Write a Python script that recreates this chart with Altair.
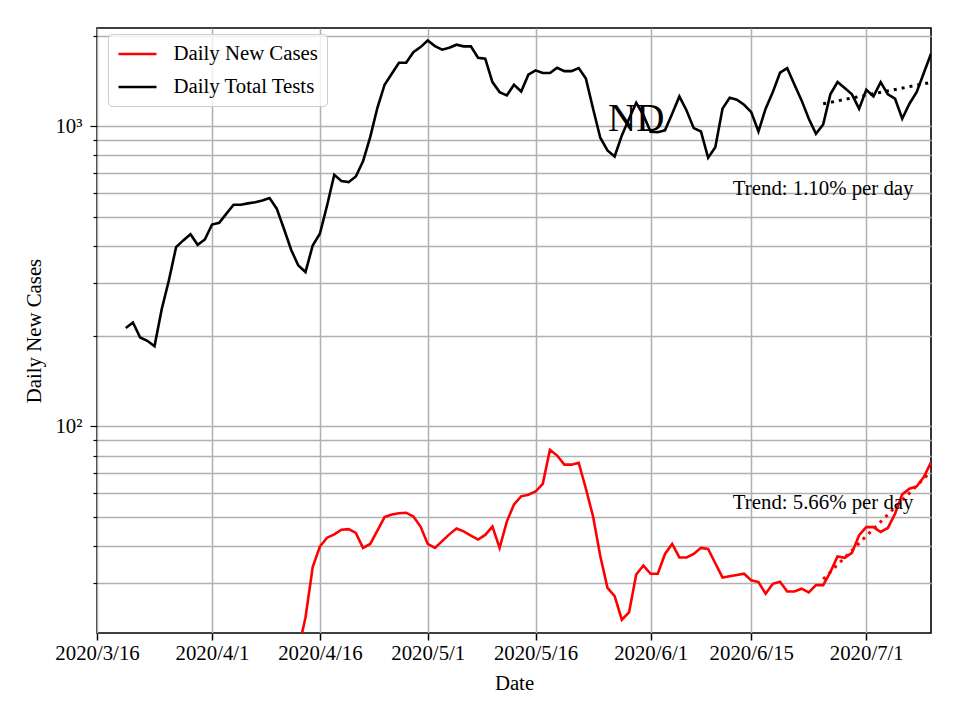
import altair as alt
import pandas as pd

# ---- data ----
test_start = "2020-03-20"
tests = [213, 222, 198, 193, 185, 246, 307, 396, 417, 437, 403, 420,
         471, 477, 512, 548, 548, 554, 559, 566, 577, 532, 456, 388, 344, 327,
         401, 439, 545, 690, 658, 652, 681, 765, 921, 1154, 1377, 1498, 1630,
         1630, 1768, 1838,
         1934, 1852, 1802, 1829, 1872, 1848, 1848, 1694, 1681, 1405, 1301, 1269,
         1377, 1308, 1487, 1537, 1506, 1506, 1569, 1529, 1529, 1564, 1443, 1145,
         917, 832, 794, 933, 1060, 1199, 1090,
         960, 957, 970, 1102, 1259, 1130, 987, 962, 786, 853, 1146, 1246, 1227,
         1181, 1116, 962, 1146, 1301, 1510, 1564, 1380, 1221, 1061, 945, 1015,
         1279, 1405, 1342, 1279, 1146,
         1325, 1259, 1405, 1279, 1237, 1061, 1190, 1301, 1506, 1747]

case_start = "2020-04-13"
cases = [18, 23.1, 34.0, 39.8, 42.6, 43.7, 45.3, 45.5, 44.2, 39.4, 40.6, 45.0,
         49.9, 50.9, 51.4, 51.6, 50.1, 46.4,
         40.6, 39.4, 41.5, 43.7, 45.7, 44.7, 43.3, 42.0, 43.5, 46.4, 39.4, 48.2,
         55.0, 58.5, 59.2, 60.7, 64.4, 83.6, 80.0, 74.6, 74.6, 75.7, 62.0, 50.1,
         37.0, 29.0, 27.2, 22.7, 24.0, 32.1, 34.4,
         32.3, 32.3, 37.6, 40.6, 36.6, 36.6, 37.6, 39.4, 39.1, 35.0, 31.4, 31.7,
         32.0, 32.3, 30.7, 30.3, 27.7, 29.9, 30.4, 28.2, 28.2, 28.8, 28.0, 29.6,
         29.6, 32.7, 36.9, 36.5, 37.9, 43.4,
         46.2, 46.2, 44.5, 45.9, 51.2, 59.4, 62.0, 63.1, 67.8, 76.0]

series_names = ["Daily New Cases", "Daily Total Tests"]
series_colors = ["#ff0000", "#000000"]

trend_dates = ["2020-06-25", "2020-07-10"]
trend_tests = [1190, 1402]
trend_cases = [31.0, 70.8]

note_texts = ["Trend: 1.10% per day", "Trend: 5.66% per day"]
note_dates = ["2020-06-25", "2020-06-25"]
note_values = [589, 53.2]

state_label = "ND"
state_date = "2020-05-30"
state_value = 969

xtick_labels = ["2020/3/16", "2020/4/1", "2020/4/16", "2020/5/1",
                "2020/5/16", "2020/6/1", "2020/6/15", "2020/7/1"]
ytick_values = [30, 40, 50, 60, 70, 80, 90, 100, 200, 300, 400, 500, 600,
                700, 800, 900, 1000, 2000]

# ---- build tables ----
t_dates = pd.date_range(test_start, periods=len(tests), freq="D").strftime("%Y-%m-%d")
c_dates = pd.date_range(case_start, periods=len(cases), freq="D").strftime("%Y-%m-%d")
df = pd.concat([
    pd.DataFrame({"date": c_dates, "value": cases, "series": series_names[0]}),
    pd.DataFrame({"date": t_dates, "value": tests, "series": series_names[1]}),
], ignore_index=True)

trend_df = pd.concat([
    pd.DataFrame({"date": trend_dates, "value": trend_cases, "series": series_names[0]}),
    pd.DataFrame({"date": trend_dates, "value": trend_tests, "series": series_names[1]}),
], ignore_index=True)

notes_df = pd.DataFrame({"date": note_dates, "value": note_values, "text": note_texts})
state_df = pd.DataFrame({"date": [state_date], "value": [state_value], "text": [state_label]})


def dt(s):
    y, m, d = (int(p) for p in s.split("/"))
    return alt.DateTime(year=y, month=m, date=d, utc=True)


FONT = "Liberation Serif"
FS = 20.8

x_scale = alt.Scale(type="utc", domain=[dt("2020/3/16"), dt("2020/7/10")], nice=False)
y_scale = alt.Scale(type="log", domain=[20.5, 2128], nice=False)

x_axis = alt.Axis(
    values=[dt(s) for s in xtick_labels],
    labelExpr="utcFormat(datum.value, '%Y/%-m/%-d')",
    labelOverlap=False, labelFlush=False,
    title="Date", grid=True, gridColor="#b0b0b0", gridWidth=1.5,
    domain=False, tickColor="black", tickWidth=1.5, tickSize=7,
    labelPadding=3, titlePadding=11,
)
y_axis = alt.Axis(
    values=ytick_values,
    labelExpr="datum.value == 100 ? '10\u00b2' : (datum.value == 1000 ? '10\u00b3' : '')",
    labelOverlap=False,
    title="Daily New Cases", grid=True, gridColor="#b0b0b0", gridWidth=1.5,
    domain=False, tickColor="black", tickWidth=1.2,
    tickSize={"condition": {"test": "datum.value == 100 || datum.value == 1000", "value": 7}, "value": 4},
    labelPadding=8, titlePadding=10,
)

color = alt.Color(
    "series:N",
    scale=alt.Scale(domain=series_names, range=series_colors),
    legend=alt.Legend(
        orient="none", legendX=11, legendY=6, title=None,
        symbolType="M-2,0H2", symbolSize=361, symbolStrokeWidth=2.5,
        symbolOffset=9.5,
        labelFont=FONT, labelFontSize=FS, labelOffset=25, labelColor="black",
        fillColor="rgba(255,255,255,0.8)", strokeColor="#cccccc",
        cornerRadius=4, padding=9, rowPadding=12,
    ),
)

lines = alt.Chart(df).mark_line(strokeWidth=2.6, clip=True).encode(
    x=alt.X("date:T", scale=x_scale, axis=x_axis),
    y=alt.Y("value:Q", scale=y_scale, axis=y_axis),
    color=color,
    detail="series:N",
)

trend = alt.Chart(trend_df).mark_line(strokeWidth=3, strokeDash=[3, 5], clip=True).encode(
    x="date:T", y="value:Q",
    color=alt.Color("series:N", scale=alt.Scale(domain=series_names, range=series_colors), legend=None),
)

notes = alt.Chart(notes_df).mark_text(
    font=FONT, fontSize=FS, align="center", baseline="alphabetic", color="black"
).encode(x="date:T", y="value:Q", text="text:N")

state = alt.Chart(state_df).mark_text(
    font=FONT, fontSize=39, align="center", baseline="alphabetic", color="black"
).encode(x="date:T", y="value:Q", text="text:N")

chart = alt.layer(lines, trend, notes, state).resolve_scale(color="independent").properties(
    width=834, height=605,
    background="white",
    autosize=alt.AutoSizeParams(type="none"),
    padding={"left": 89, "top": 20, "right": 21, "bottom": 79},
).configure_view(stroke="black", strokeWidth=1.6).configure_axis(
    labelFont=FONT, labelFontSize=FS, labelColor="black",
    titleFont=FONT, titleFontSize=FS, titleFontWeight="normal", titleColor="black",
)

chart.save("out.html", embed_options={"renderer": "svg", "actions": False})
